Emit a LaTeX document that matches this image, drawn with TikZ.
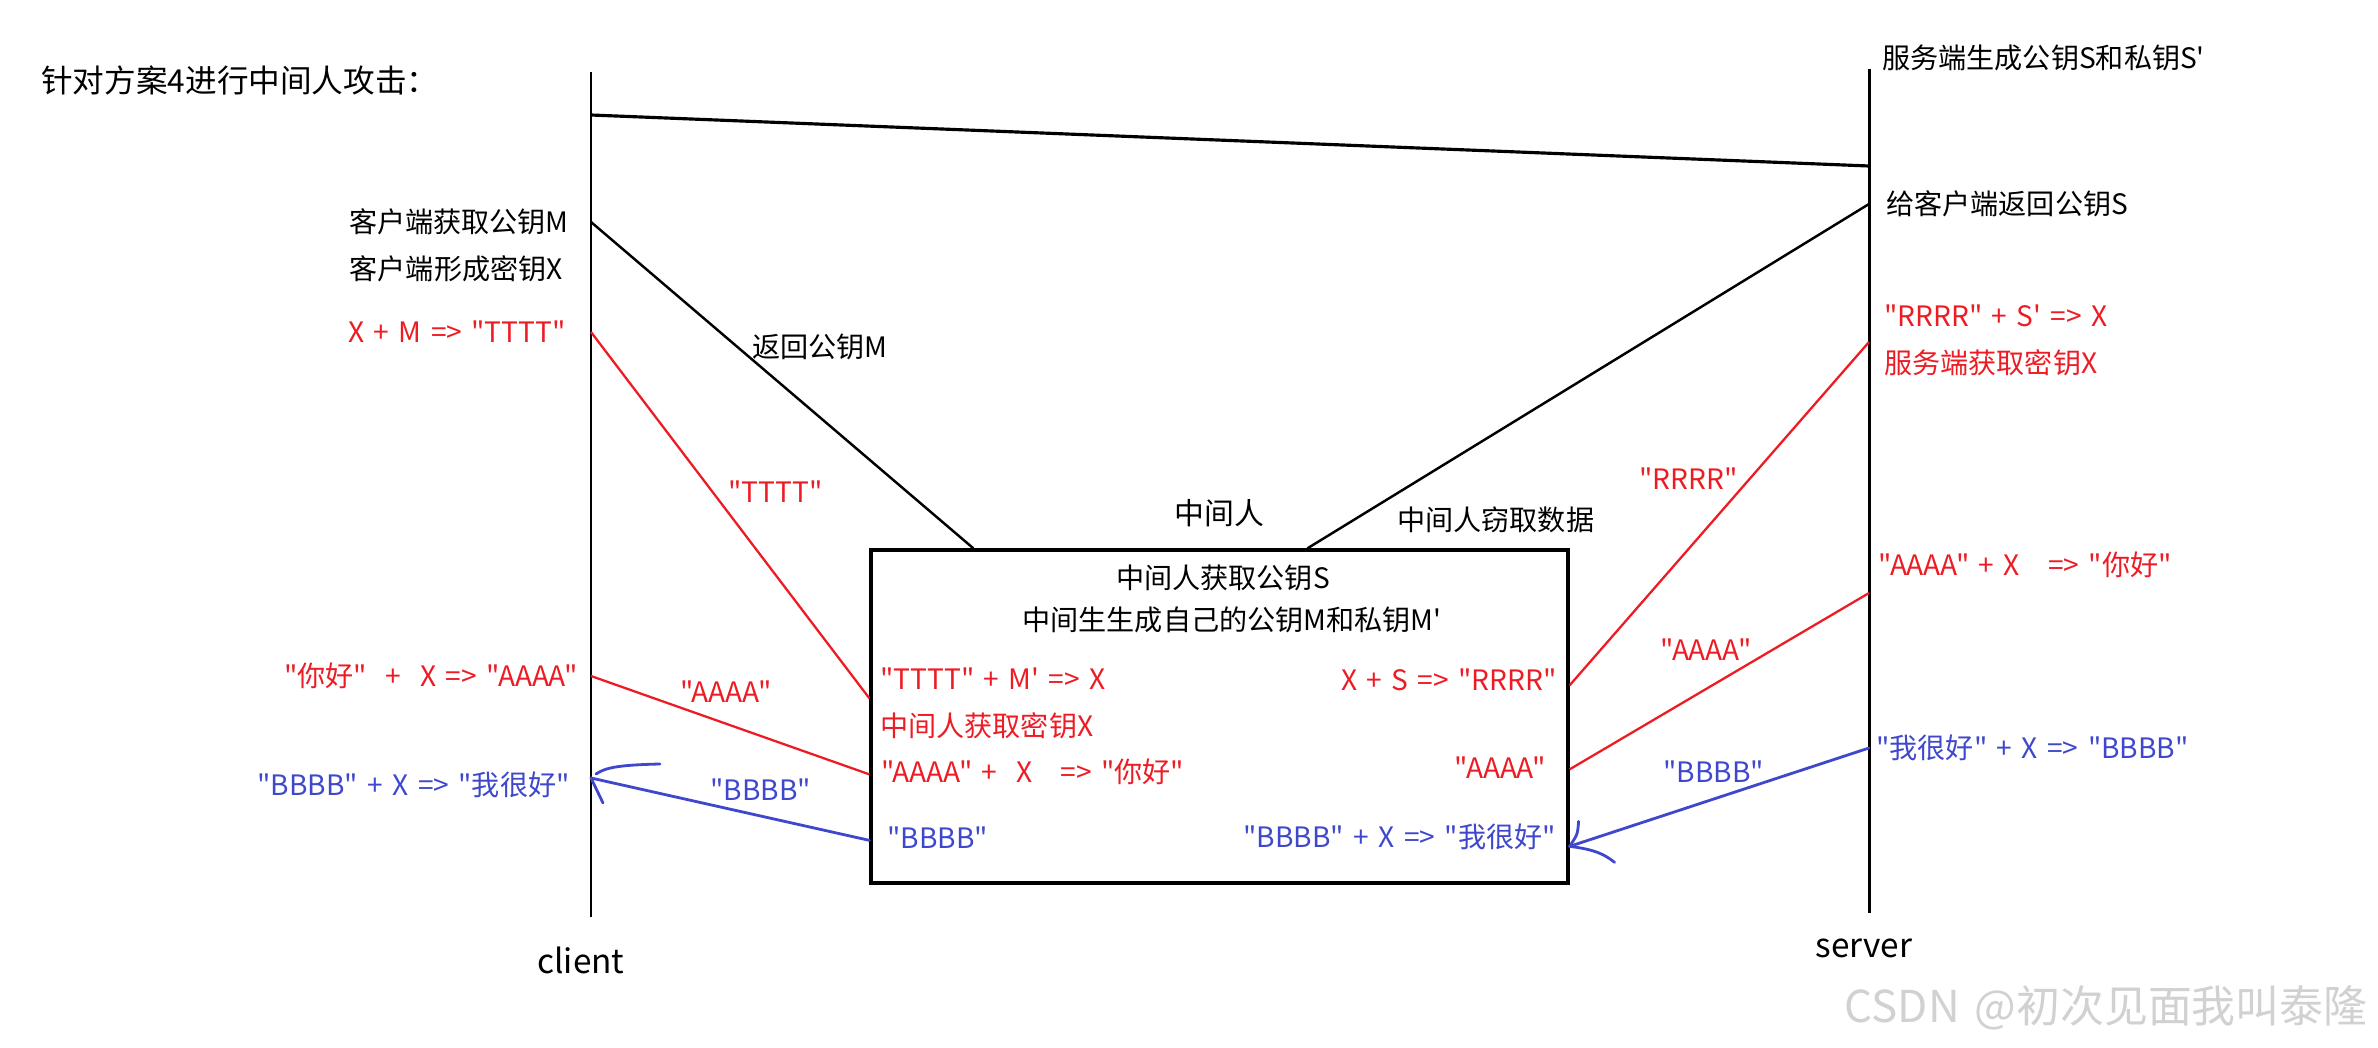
\documentclass[tikz,border=0pt]{standalone}
\usepackage{fontspec}
\newfontfamily\cjk{Noto Sans CJK SC}[WordSpace=1.5]
\usetikzlibrary{positioning, calc}
\definecolor{paintred}{RGB}{237,28,36}
\definecolor{paintblue}{RGB}{63,72,204}

\begin{document}
\begin{tikzpicture}[
    x=0.02cm, y=-0.02cm,
    txt/.style={font=\cjk\fontsize{16}{19}\selectfont, inner sep=0pt},
    redtxt/.style={txt, text=paintred},
    bluetxt/.style={txt, text=paintblue},
    lifeline/.style={line width=1.7pt},
    msg/.style={line width=1.4pt},
    redmsg/.style={draw=paintred, line width=1.3pt},
    bluemsg/.style={draw=paintblue, line width=1.6pt, line cap=round, line join=round},
    mitmbox/.style={draw, line width=1.9pt, minimum width=13.94cm, minimum height=6.66cm, inner sep=0pt}
]
\useasboundingbox (0,0) rectangle (2378,1048);

% lifelines
\coordinate (cTop) at (591,72);
\coordinate (cBot) at (591,917);
\coordinate (sTop) at (1869,69);
\coordinate (sBot) at (1869,913);
\draw[lifeline] (cTop) -- (cBot);
\draw[lifeline] (sTop) -- (sBot);

% points on the lifelines
\coordinate (c1) at (591,115);
\coordinate (c2) at (591,222);
\coordinate (c3) at (591,332);
\coordinate (c4) at (591,676);
\coordinate (c5) at (591,778);
\coordinate (s1) at (1869,166);
\coordinate (s2) at (1869,204);
\coordinate (s3) at (1869,342);
\coordinate (s4) at (1869,593);
\coordinate (s5) at (1869,748);

% man in the middle
\node[mitmbox] (mitm) at (1219.5,716.5) {};
\coordinate (bT1) at ($(mitm.north west)+(104,0)$);
\coordinate (bT2) at ($(mitm.north west)+(438,0)$);
\coordinate (bL1) at ($(mitm.north west)+(0,150)$);
\coordinate (bL2) at ($(mitm.north west)+(0,226)$);
\coordinate (bL3) at ($(mitm.north west)+(0,292)$);
\coordinate (bR1) at ($(mitm.north east)+(0,137)$);
\coordinate (bR2) at ($(mitm.north east)+(0,221)$);
\coordinate (bR3) at ($(mitm.north east)+(0,298)$);

\node[txt, font=\cjk\fontsize{17}{20}\selectfont, above=0.42cm of mitm] (mitmName) {中间人};
\node[txt] (mGetS) at (1223,578) {中间人获取公钥S};
\node[txt] (mGen) at (1232,620) {中间生生成自己的公钥M和私钥M'};
\node[redtxt, anchor=west] (mCalcX) at (880,679) {"TTTT" + M' => X};
\node[redtxt, anchor=west] (mGetX) at (880,726) {中间人获取密钥X};
\node[redtxt, anchor=west] (mDecA) at (881,772) {"AAAA" +~~X~~~=> "你好"};
\node[bluetxt, anchor=west] (mB) at (887,838) {"BBBB"};
\node[redtxt, anchor=east] (mCalcR) at (1557,680) {X + S => "RRRR"};
\node[redtxt, anchor=east] (mA) at (1546,768) {"AAAA"};
\node[bluetxt, anchor=east] (mDecB) at (1556,837) {"BBBB" + X => "我很好"};

% title and side notes
\node[txt, font=\cjk\fontsize{18}{22}\selectfont, anchor=west] (title) at (41,80) {针对方案4进行中间人攻击：};
\node[txt, anchor=west] (sGen) at (1882,58) {服务端生成公钥S和私钥S'};
\node[txt, right=0.34cm of s2] (sSend) {给客户端返回公钥S};
\node[txt, left=0.44cm of c2] (cGetM) {客户端获取公钥M};
\node[txt, anchor=east] (cGenX) at (563,269) {客户端形成密钥X};
\node[redtxt, left=0.5cm of c3] (cCalcT) {X + M => "TTTT"};
\node[redtxt, left=0.26cm of c4] (cEncA) {"你好"~~+~~X => "AAAA"};
\node[bluetxt, anchor=east] (cDecB) at (570,785) {"BBBB" + X => "我很好"};
\node[redtxt, anchor=west] (sCalcX) at (1884,316) {"RRRR" + S' => X};
\node[redtxt, anchor=west] (sGetX) at (1884,363) {服务端获取密钥X};
\node[redtxt, anchor=west] (sDecA) at (1878,565) {"AAAA" + X~~~=> "你好"};
\node[bluetxt, right=0.14cm of s5] (sEncB) {"我很好" + X => "BBBB"};

% message labels
\node[txt, anchor=west] (lblM) at (752,347) {返回公钥M};
\node[txt, anchor=west] (lblSteal) at (1397,520) {中间人窃取数据};
\node[redtxt, anchor=west] (lblT) at (728,492) {"TTTT"};
\node[redtxt, anchor=west] (lblA1) at (680,692) {"AAAA"};
\node[bluetxt, anchor=west] (lblB1) at (710,790) {"BBBB"};
\node[redtxt, anchor=west] (lblR) at (1639,479) {"RRRR"};
\node[redtxt, anchor=west] (lblA2) at (1660,650) {"AAAA"};
\node[bluetxt, anchor=west] (lblB2) at (1663,772) {"BBBB"};

\node[txt, font=\cjk\fontsize{19}{22}\selectfont] (client) at (581,960) {client};
\node[txt, font=\cjk\fontsize{19}{22}\selectfont] (server) at (1864,948) {server};
\node[txt, font=\cjk\fontsize{25}{30}\selectfont, text=black!18, anchor=east] (mark) at (2368,1008) {CSDN @初次见面我叫泰隆};

% messages
\draw[msg, line width=1.8pt] (c1) -- (s1);
\draw[msg] (c2) -- (bT1);
\draw[msg] (s2) -- (bT2);
\draw[redmsg] (c3) -- (bL1);
\draw[redmsg] (c4) -- (bL2);
\draw[bluemsg] (bL3) -- (c5);
\draw[redmsg] (bR1) -- (s3);
\draw[redmsg] (bR2) -- (s4);
\draw[bluemsg] (s5) -- (bR3);

% hand drawn tips
\draw[bluemsg] ($(c5)+(5,-4)$) .. controls ($(c5)+(14,-10)$) and ($(c5)+(25,-13)$) .. ($(c5)+(69,-14)$);
\draw[bluemsg] (c5) -- ($(c5)+(12,25)$);
\draw[bluemsg] ($(bR3)+(9,-25)$) .. controls ($(bR3)+(8,-12)$) .. (bR3);
\draw[bluemsg] (bR3) .. controls ($(bR3)+(25,3)$) and ($(bR3)+(35,8)$) .. ($(bR3)+(45,16)$);
\end{tikzpicture}
\end{document}
